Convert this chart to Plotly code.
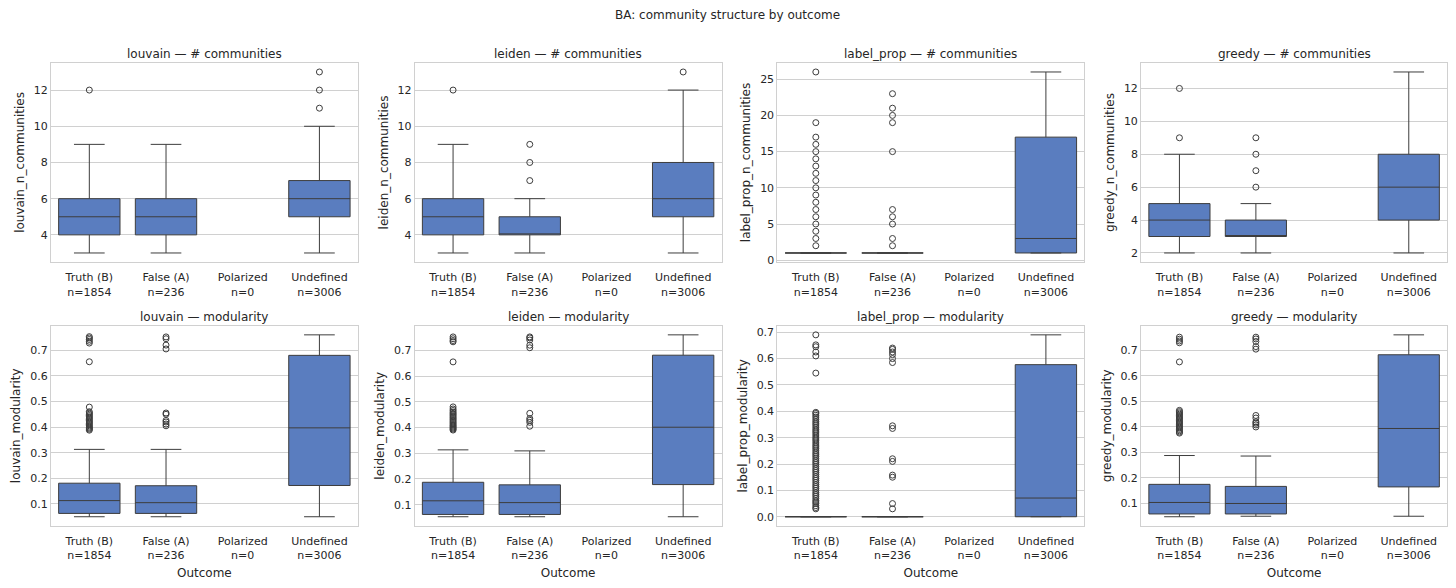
import plotly.graph_objects as go

# categories on the x axis
outcomes = ["Truth (B)", "False (A)", "Polarized", "Undefined"]
counts = [1854, 236, 0, 3006]
box_pos = [0, 1, 3]  # Polarized has no data

# box stats per group: [whisker low, q1, median, q3, whisker high] for Truth, False, Undefined
louvain_nc = [[3, 4, 5, 6, 9], [3, 4, 5, 6, 9], [3, 5, 6, 7, 10]]
louvain_nc_fliers = [[12], [], [11, 12, 13]]

leiden_nc = [[3, 4, 5, 6, 9], [3, 4, 4, 5, 6], [3, 5, 6, 8, 12]]
leiden_nc_fliers = [[12], [7, 8, 9], [13]]

labelprop_nc = [[1, 1, 1, 1, 1], [1, 1, 1, 1, 1], [1, 1, 3, 17, 26]]
labelprop_nc_fliers = [
    [2, 3, 4, 5, 6, 7, 8, 9, 10, 11, 12, 13, 14, 15, 16, 17, 19, 26],
    [2, 3, 5, 6, 7, 15, 19, 20, 21, 23],
    [],
]

greedy_nc = [[2, 3, 4, 5, 8], [2, 3, 3, 4, 5], [2, 4, 6, 8, 13]]
greedy_nc_fliers = [[9, 12], [6, 7, 8, 9], []]

louvain_mod = [[0.050, 0.063, 0.113, 0.181, 0.313],
               [0.050, 0.063, 0.105, 0.171, 0.313],
               [0.050, 0.172, 0.397, 0.680, 0.760]]
louvain_mod_fliers = [
    [0.388, 0.392, 0.396, 0.400, 0.405, 0.410, 0.415, 0.420, 0.425, 0.430,
     0.435, 0.440, 0.445, 0.450, 0.455, 0.460, 0.478, 0.655, 0.728, 0.735,
     0.742, 0.748, 0.753],
    [0.405, 0.412, 0.420, 0.426, 0.450, 0.455, 0.705, 0.720, 0.745, 0.752],
    [],
]

leiden_mod = [[0.053, 0.062, 0.115, 0.187, 0.313],
              [0.053, 0.062, 0.108, 0.177, 0.309],
              [0.053, 0.178, 0.401, 0.681, 0.760]]
leiden_mod_fliers = [
    [0.390, 0.394, 0.398, 0.402, 0.406, 0.410, 0.415, 0.420, 0.425, 0.430,
     0.435, 0.440, 0.445, 0.450, 0.455, 0.460, 0.466, 0.472, 0.480, 0.655,
     0.733, 0.738, 0.745, 0.752],
    [0.405, 0.420, 0.428, 0.435, 0.455, 0.710, 0.720, 0.740, 0.748, 0.752],
    [],
]

labelprop_mod = [[0.0, 0.0, 0.0, 0.0, 0.0],
                 [0.0, 0.0, 0.0, 0.0, 0.0],
                 [0.0, 0.0, 0.071, 0.577, 0.690]]
labelprop_mod_fliers = [
    [0.030, 0.035, 0.042, 0.050, 0.056, 0.062, 0.070, 0.078, 0.085, 0.092,
     0.100, 0.108, 0.115, 0.122, 0.130, 0.138, 0.145, 0.152, 0.160, 0.168,
     0.175, 0.182, 0.190, 0.198, 0.205, 0.212, 0.220, 0.228, 0.235, 0.242,
     0.250, 0.258, 0.265, 0.272, 0.280, 0.288, 0.295, 0.302, 0.310, 0.318,
     0.325, 0.332, 0.340, 0.348, 0.355, 0.362, 0.370, 0.378, 0.385, 0.392,
     0.396, 0.545, 0.610, 0.625, 0.645, 0.652, 0.690],
    [0.030, 0.050, 0.150, 0.158, 0.210, 0.220, 0.335, 0.345, 0.585, 0.600,
     0.615, 0.625, 0.635, 0.640],
    [],
]

greedy_mod = [[0.048, 0.059, 0.104, 0.175, 0.288],
              [0.050, 0.059, 0.100, 0.167, 0.286],
              [0.050, 0.165, 0.394, 0.683, 0.761]]
greedy_mod_fliers = [
    [0.376, 0.380, 0.385, 0.390, 0.395, 0.400, 0.405, 0.410, 0.415, 0.420,
     0.425, 0.430, 0.435, 0.440, 0.445, 0.450, 0.455, 0.460, 0.465, 0.655,
     0.730, 0.737, 0.744, 0.752],
    [0.400, 0.408, 0.415, 0.420, 0.435, 0.445, 0.705, 0.715, 0.735, 0.745,
     0.752],
    [],
]

panels = [
    ("louvain — # communities", "louvain_n_communities", louvain_nc, louvain_nc_fliers, 2),
    ("leiden — # communities", "leiden_n_communities", leiden_nc, leiden_nc_fliers, 2),
    ("label_prop — # communities", "label_prop_n_communities", labelprop_nc, labelprop_nc_fliers, 5),
    ("greedy — # communities", "greedy_n_communities", greedy_nc, greedy_nc_fliers, 2),
    ("louvain — modularity", "louvain_modularity", louvain_mod, louvain_mod_fliers, 0.1),
    ("leiden — modularity", "leiden_modularity", leiden_mod, leiden_mod_fliers, 0.1),
    ("label_prop — modularity", "label_prop_modularity", labelprop_mod, labelprop_mod_fliers, 0.1),
    ("greedy — modularity", "greedy_modularity", greedy_mod, greedy_mod_fliers, 0.1),
]

# the page body has an 8px margin, so the figure is 16px smaller than the window
OFF = 8
W, H = 1456 - 2 * OFF, 588 - 2 * OFF
box_color = "#5a7dbf"
line_color = "#3d3d3d"
grid_color = "#d0d0d0"
text_color = "#262626"
font_family = "DejaVu Sans"

# plot areas in window pixels
col_px = [(51, 358), (415, 722), (778, 1085), (1142, 1448)]
row_px = [(64, 267), (332, 536)]


def px_x(p):
    return min(1, max(0, (p - OFF) / W))


def px_y(p):
    return min(1, max(0, 1 - (p - OFF) / H))


tick_text = [f"{o}<br>n={c}" for o, c in zip(outcomes, counts)]

fig = go.Figure()
annotations = []

for i, (title, ylab, stats, fliers, dtick) in enumerate(panels):
    r, c = divmod(i, 4)
    n = i + 1
    xa = "x" if n == 1 else f"x{n}"
    ya = "y" if n == 1 else f"y{n}"

    fig.add_trace(go.Box(
        x=box_pos,
        lowerfence=[s[0] for s in stats],
        q1=[s[1] for s in stats],
        median=[s[2] for s in stats],
        q3=[s[3] for s in stats],
        upperfence=[s[4] for s in stats],
        width=0.8,
        whiskerwidth=0.5,
        fillcolor=box_color,
        line=dict(color=line_color, width=1),
        boxpoints=False,
        hoverinfo="skip",
        showlegend=False,
        xaxis=xa, yaxis=ya,
    ))

    fx, fy = [], []
    for pos, vals in zip(box_pos, fliers):
        fx += [pos] * len(vals)
        fy += vals
    fig.add_trace(go.Scatter(
        x=fx, y=fy, mode="markers",
        marker=dict(symbol="circle-open", size=6, color=line_color,
                    line=dict(width=1, color=line_color)),
        showlegend=False, hoverinfo="skip",
        xaxis=xa, yaxis=ya,
    ))

    # matplotlib-style 5% padding
    allv = [v for s in stats for v in s] + [v for f in fliers for v in f]
    lo, hi = min(allv), max(allv)
    pad = (hi - lo) * 0.05
    x0, x1 = col_px[c]
    y0, y1 = row_px[r]

    fig.layout[f"xaxis{'' if n == 1 else n}"] = dict(
        domain=[px_x(x0), px_x(x1)], anchor=ya, range=[-0.5, 3.5],
        tickmode="array", tickvals=[0, 1, 2, 3], ticktext=tick_text,
        showgrid=False, zeroline=False, showline=True, mirror=True,
        linecolor=grid_color, linewidth=1.25, ticks="", ticklabelstandoff=5,
        tickfont=dict(size=11, color=text_color),
        title=dict(text="Outcome" if r == 1 else "", standoff=9,
                   font=dict(size=12, color=text_color)),
    )
    fig.layout[f"yaxis{'' if n == 1 else n}"] = dict(
        domain=[px_y(y1), px_y(y0)], anchor=xa, range=[lo - pad, hi + pad],
        tick0=0, dtick=dtick, tickformat=".1f" if dtick < 1 else "d",
        showgrid=True, gridcolor=grid_color, gridwidth=1, zeroline=False,
        showline=True, mirror=True, linecolor=grid_color, linewidth=1.25,
        ticks="", tickfont=dict(size=11, color=text_color),
        title=dict(text=ylab, standoff=6, font=dict(size=12, color=text_color)),
    )

    annotations.append(dict(
        text=title, x=px_x((x0 + x1) / 2), y=px_y(y0 - 9),
        xref="paper", yref="paper", xanchor="center", yanchor="middle",
        showarrow=False, font=dict(size=12, color=text_color),
    ))

annotations.append(dict(
    text="BA: community structure by outcome", x=px_x(728), y=px_y(15),
    xref="paper", yref="paper", xanchor="center", yanchor="middle",
    showarrow=False, font=dict(size=12, color=text_color),
))

fig.update_layout(
    width=W, height=H,
    margin=dict(l=0, r=0, t=0, b=0),
    paper_bgcolor="white", plot_bgcolor="white",
    font=dict(family=font_family, color=text_color),
    annotations=annotations,
)

fig.write_html("out.html")
